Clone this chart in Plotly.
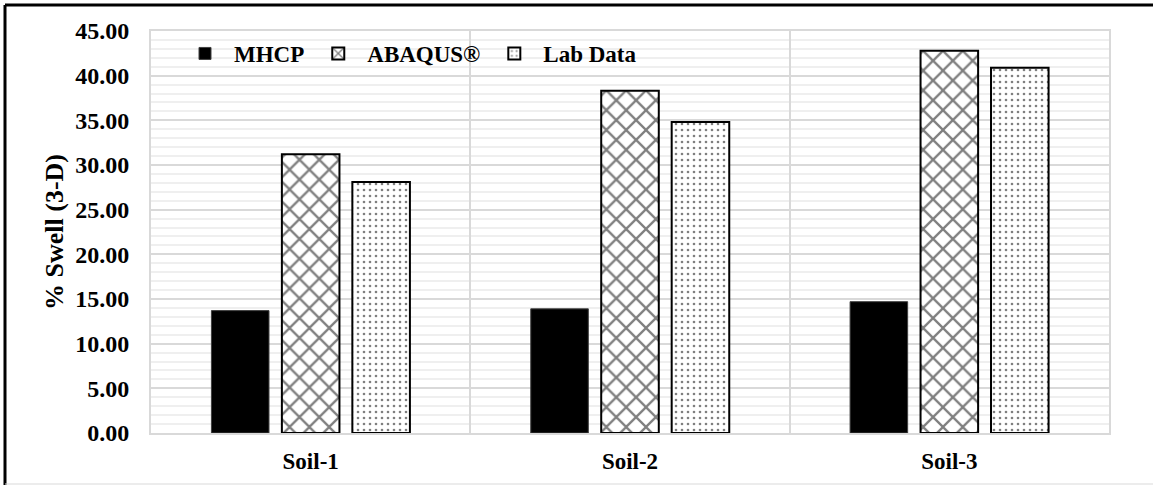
import plotly.graph_objects as go

categories = ["Soil-1", "Soil-2", "Soil-3"]
mhcp = [13.7, 13.9, 14.7]
abaqus = [31.2, 38.3, 42.8]
lab_data = [28.1, 34.8, 40.9]
y_ticks = [0, 5, 10, 15, 20, 25, 30, 35, 40, 45]

FONT = "Times New Roman, Liberation Serif, serif"

fig = go.Figure()
fig.add_trace(go.Bar(
    name="MHCP", x=categories, y=mhcp,
    marker=dict(color="black", line=dict(color="#404040", width=1)),
))
fig.add_trace(go.Bar(
    name="ABAQUS®", x=categories, y=abaqus,
    marker=dict(color="white", line=dict(color="black", width=2),
                pattern=dict(shape="x", fgcolor="black", bgcolor="white",
                             size=14, solidity=0.3, fillmode="overlay")),
))
fig.add_trace(go.Bar(
    name="Lab Data", x=categories, y=lab_data,
    marker=dict(color="white", line=dict(color="black", width=2),
                pattern=dict(shape=".", fgcolor="black", bgcolor="white",
                             size=6, solidity=0.15, fillmode="overlay")),
))

W, H = 1153, 485
L, R, T, B = 151, 1109, 31, 433
pw, ph = R - L, B - T


def px(x):
    return (x - L) / pw


def py(y):
    return (B - y) / ph


shapes = [
    dict(type="line", xref="paper", yref="paper", x0=px(5), x1=px(1153),
         y0=py(5), y1=py(5), line=dict(color="black", width=3)),
    dict(type="line", xref="paper", yref="paper", x0=px(5), x1=px(5),
         y0=py(5), y1=py(485), line=dict(color="black", width=3)),
    dict(type="line", xref="paper", yref="paper", x0=px(5), x1=px(1153),
         y0=py(484), y1=py(484), line=dict(color="#d9d9d9", width=1)),
]

fig.update_layout(
    width=W, height=H,
    margin=dict(l=L, r=W - R, t=T, b=H - B, autoexpand=False),
    paper_bgcolor="white", plot_bgcolor="white",
    barmode="group", bargap=0.338, bargroupgap=0.183,
    font=dict(family=FONT, color="black", size=22),
    showlegend=True,
    legend=dict(orientation="h", x=px(176), y=py(53.5), xanchor="left",
                yanchor="middle", bgcolor="rgba(0,0,0,0)", itemwidth=48,
                font=dict(family=FONT, size=23, color="black", weight="bold"),
                traceorder="normal", itemclick=False),
    shapes=shapes,
    xaxis=dict(
        type="category", tickson="boundaries", showgrid=True,
        gridcolor="#d9d9d9", gridwidth=2, ticks="",
        showline=True, mirror=True, linecolor="#d9d9d9", linewidth=2,
        tickfont=dict(family=FONT, size=23, color="black", weight="bold"),
        ticklabelstandoff=6,
    ),
    yaxis=dict(
        range=[0, 45], tickvals=y_ticks, tickformat=".2f",
        showgrid=True, gridcolor="#d9d9d9", gridwidth=2,
        minor=dict(dtick=1, showgrid=True, gridcolor="#efefef", gridwidth=2),
        showline=True, mirror=True, linecolor="#d9d9d9", linewidth=2,
        zeroline=False, ticks="",
        tickfont=dict(family=FONT, size=24, color="black", weight="bold"),
        ticklabelstandoff=15,
        title=dict(text="% Swell (3-D)", standoff=4,
                   font=dict(family=FONT, size=26, color="black", weight="bold")),
    ),
)

fig.write_html("out.html",
               config={"displayModeBar": False},
               post_script="document.body.style.margin='0';"
                           "document.body.style.padding='0';")
